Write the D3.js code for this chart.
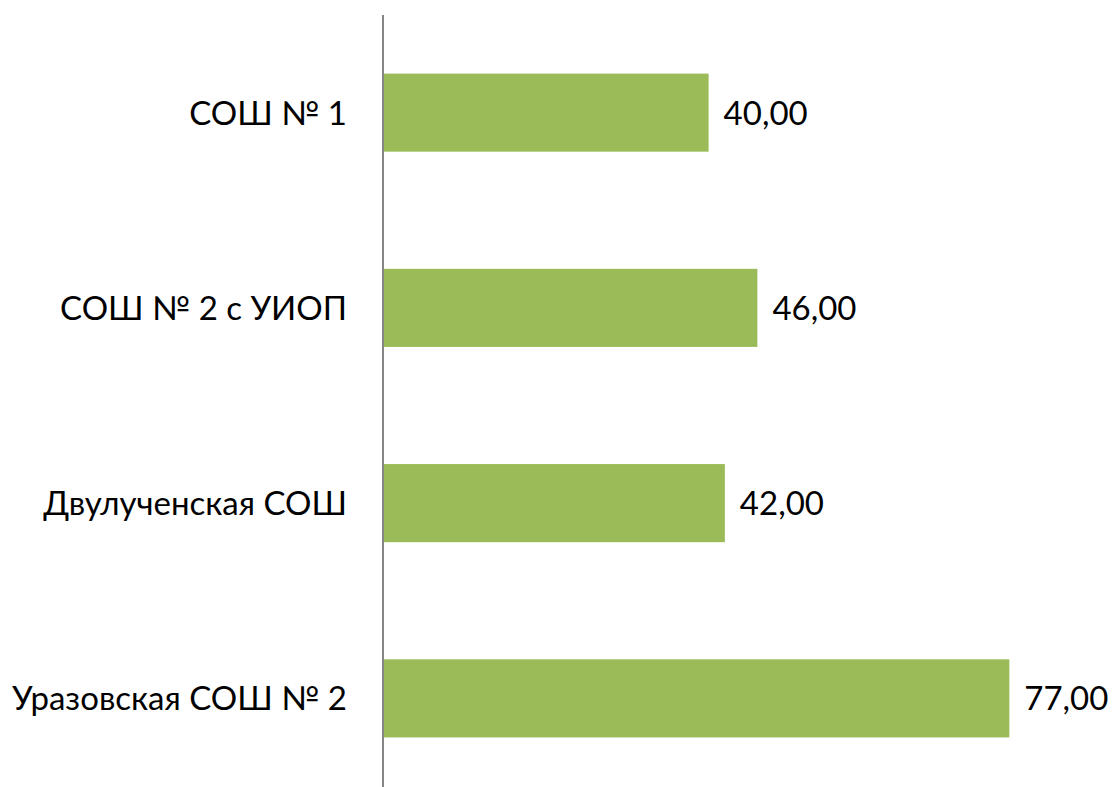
<!DOCTYPE html>
<html><head><meta charset="utf-8">
<script src="https://cdn.jsdelivr.net/npm/d3@7"></script>
<style>html,body{margin:0;padding:0;background:#fff;}svg{display:block;}</style>
</head><body>
<script>
const categories = ["СОШ № 1", "СОШ № 2 с УИОП", "Двулученская СОШ", "Уразовская СОШ № 2"];
const values = [40, 46, 42, 77];
const labels = ["40,00", "46,00", "42,00", "77,00"];

const W = 1115, H = 787;
const svg = d3.select("body").append("svg").attr("width", W).attr("height", H);
const font = "Lato, 'Open Sans', sans-serif";

const x = d3.scaleLinear().domain([0, 90]).range([383.5, 1115]);
const y = d3.scaleBand().domain(categories).range([15, 796]).paddingInner(0.6).paddingOuter(0.3);

svg.selectAll("rect.bar").data(values).enter().append("rect")
  .attr("class", "bar")
  .attr("x", x(0))
  .attr("y", (d, i) => y(categories[i]))
  .attr("width", d => x(d) - x(0))
  .attr("height", y.bandwidth())
  .attr("fill", "#9BBB59");

svg.append("line").attr("x1", 383).attr("x2", 383).attr("y1", 15).attr("y2", H)
  .attr("stroke", "#868686").attr("stroke-width", 2);

svg.selectAll("text.cat").data(categories).enter().append("text")
  .attr("class", "cat")
  .attr("x", 347)
  .attr("y", d => y(d) + y.bandwidth() / 2)
  .attr("dy", "0.36em")
  .attr("text-anchor", "end")
  .attr("font-family", font).attr("font-size", 33).attr("fill", "#000")
  .text(d => d);

svg.selectAll("text.val").data(values).enter().append("text")
  .attr("class", "val")
  .attr("x", d => x(d) + 15)
  .attr("y", (d, i) => y(categories[i]) + y.bandwidth() / 2)
  .attr("dy", "0.36em")
  .attr("font-family", font).attr("font-size", 33).attr("fill", "#000")
  .text((d, i) => labels[i]);
</script>
</body></html>
